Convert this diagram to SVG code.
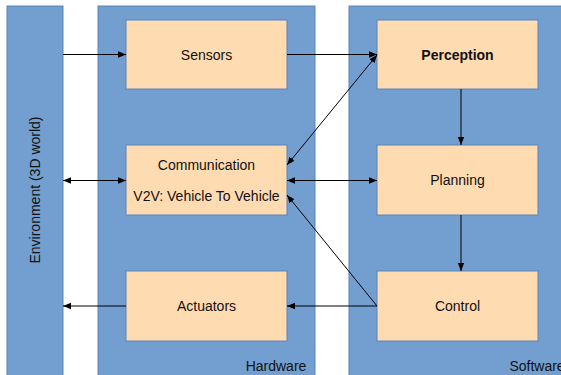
<svg xmlns="http://www.w3.org/2000/svg" width="561" height="375" viewBox="0 0 561 375">
<defs>
<marker id="ah" viewBox="0 0 10 10" refX="10" refY="5" markerWidth="8" markerHeight="8" orient="auto-start-reverse" markerUnits="userSpaceOnUse">
<path d="M0,1 L10,5 L0,9 Z" fill="#000"/>
</marker>
<style>
.cont{fill:#729fcf;stroke:#5b84b8;stroke-width:1}
.box{fill:#ffdbb2;stroke:#5b84b8;stroke-width:1}
.t{font-family:"Liberation Sans",Arial,sans-serif;font-size:14px;fill:#111;text-anchor:middle;dominant-baseline:central}
.c{stroke:#000;stroke-width:1;fill:none;marker-end:url(#ah)}
.b{marker-start:url(#ah)}
</style>
</defs>
<rect width="561" height="375" fill="#fff"/>
<g id="environment">
<rect class="cont" x="7" y="6" width="56" height="375"/>
<text class="t" transform="translate(35,190) rotate(-90)">Environment (3D world)</text>
</g>
<g id="hardware">
<rect class="cont" x="98" y="6" width="217" height="375"/>
<text class="t" x="276" y="366">Hardware</text>
</g>
<g id="software">
<rect class="cont" x="349" y="6" width="220" height="375"/>
<text class="t" x="537" y="366">Software</text>
</g>
<g id="sensors">
<rect class="box" x="126" y="20" width="161" height="69"/>
<text class="t" x="206.5" y="55">Sensors</text>
</g>
<g id="communication">
<rect class="box" x="126" y="145" width="161" height="70"/>
<text class="t" x="206.5" y="165">Communication</text>
<text class="t" x="206.5" y="196">V2V: Vehicle To Vehicle</text>
</g>
<g id="actuators">
<rect class="box" x="126" y="271" width="161" height="70"/>
<text class="t" x="206.5" y="306">Actuators</text>
</g>
<g id="perception">
<rect class="box" x="377" y="20" width="161" height="69"/>
<text class="t" x="457.5" y="55" font-weight="bold">Perception</text>
</g>
<g id="planning">
<rect class="box" x="377" y="145" width="161" height="70"/>
<text class="t" x="457.5" y="180">Planning</text>
</g>
<g id="control">
<rect class="box" x="377" y="271" width="161" height="70"/>
<text class="t" x="457.5" y="306">Control</text>
</g>
<g id="connectors">
<line class="c" x1="63" y1="54.5" x2="126" y2="54.5"/>
<line class="c" x1="287" y1="54.5" x2="377" y2="54.5"/>
<line class="c b" x1="63" y1="180.5" x2="126" y2="180.5"/>
<line class="c b" x1="287" y1="180.5" x2="377" y2="180.5"/>
<line class="c b" x1="377" y1="55" x2="287" y2="165"/>
<line class="c" x1="461" y1="89" x2="461" y2="145"/>
<line class="c" x1="461" y1="215" x2="461" y2="271"/>
<line class="c" x1="377" y1="306" x2="287" y2="306"/>
<line class="c" x1="377" y1="306" x2="287" y2="195"/>
<line class="c" x1="126" y1="306" x2="63" y2="306"/>
</g>
</svg>
